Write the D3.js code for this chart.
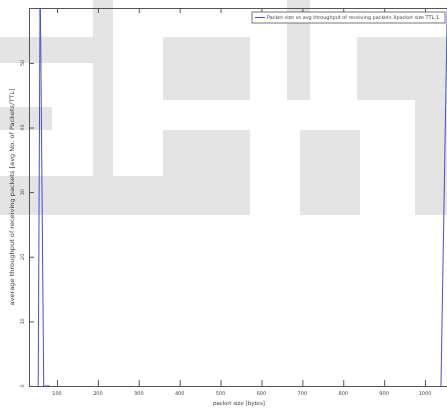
<!DOCTYPE html>
<html>
<head>
<meta charset="utf-8">
<script src="https://cdn.jsdelivr.net/npm/d3@7"></script>
<style>
  body { margin: 0; background: #fff; }
  svg { display: block; font-family: "DejaVu Sans", sans-serif; will-change: transform; }
</style>
</head>
<body>
<div id="chart"></div>
<script>
// packet size (bytes) vs average throughput; null breaks the line
var packetSize = [54, 58.6, 60, 67.5, 83, 500, 1039, 1058];
var throughput = [0, 60, 54.5, 0, 0, null, 0, 72];
var xTicks = [100, 200, 300, 400, 500, 600, 700, 800, 900, 1000];
var yTicks = [0, 10, 20, 30, 40, 50];
var legendLabel = "Packet size vs avg throughput of receiving packets Xpacket size TTL;1";

// background watermark blocks [x, y, w, h]
var watermark = [
  [0, 37, 100, 26], [93, 0, 20, 215], [0, 107, 52, 23], [0, 176, 250, 39],
  [163, 37, 87, 63], [287, 0, 23, 100], [163, 130, 87, 85],
  [357, 37, 90, 63], [415, 37, 32, 178], [300, 130, 60, 85]
];

function lineChart() {
  var W = 447, H = 408;
  var margin = { top: 8, left: 29 },
      width = 451 - margin.left,
      height = 386 - margin.top;

  var root = d3.select("#chart").append("svg")
      .attr("width", W).attr("height", H);

  root.append("g").selectAll("rect")
      .data(watermark)
      .enter().append("rect")
      .attr("x", function (d) { return d[0]; })
      .attr("y", function (d) { return d[1]; })
      .attr("width", function (d) { return d[2]; })
      .attr("height", function (d) { return d[3]; })
      .style("fill", "#e4e4e4");

  var svg = root.append("g")
      .attr("transform", "translate(" + margin.left + "," + margin.top + ")");

  var x = d3.scaleLinear().domain([31.5, 1063.5]).range([0, width]);
  var y = d3.scaleLinear().domain([0, 58.5]).range([height, 0]);

  svg.append("clipPath").attr("id", "clip")
      .append("rect").attr("width", width).attr("height", height);

  var pts = packetSize.map(function (p, i) { return { x: p, y: throughput[i] }; });
  var line = d3.line()
      .defined(function (d) { return d.y !== null; })
      .x(function (d) { return x(d.x); })
      .y(function (d) { return y(d.y); });

  // axes box, ticks pointing inward
  svg.append("g").attr("transform", "translate(0," + height + ")")
      .call(d3.axisTop(x).tickValues(xTicks).tickSize(6).tickFormat(""));
  svg.append("g").call(d3.axisBottom(x).tickValues(xTicks).tickSize(5).tickFormat(""));
  svg.append("g").call(d3.axisRight(y).tickValues(yTicks).tickSize(5).tickFormat(""));
  svg.selectAll(".domain").attr("stroke", "#555").attr("stroke-width", 1);
  svg.selectAll(".tick line").attr("stroke", "#555");

  svg.append("g").selectAll("text")
      .data(xTicks).enter().append("text")
      .attr("x", function (d) { return x(d); })
      .attr("y", height + 9)
      .attr("text-anchor", "middle")
      .style("font-size", "5px").style("fill", "#444")
      .text(function (d) { return d; });

  svg.append("g").selectAll("text")
      .data(yTicks).enter().append("text")
      .attr("transform", function (d) { return "translate(-5," + y(d) + ") rotate(-90)"; })
      .attr("text-anchor", "middle")
      .style("font-size", "5px").style("fill", "#444")
      .text(function (d) { return d; });

  svg.append("path")
      .datum(pts)
      .attr("clip-path", "url(#clip)")
      .attr("d", line)
      .style("fill", "none")
      .style("stroke", "#4a4ad6")
      .style("stroke-width", 1);

  root.append("text")
      .attr("x", 239).attr("y", 405)
      .attr("text-anchor", "middle")
      .style("font-size", "5.5px").style("fill", "#444")
      .text("packet size [bytes]");

  root.append("text")
      .attr("transform", "translate(14,197) rotate(-90)")
      .attr("text-anchor", "middle")
      .attr("textLength", 217).attr("lengthAdjust", "spacingAndGlyphs")
      .style("font-size", "6px").style("fill", "#444")
      .text("average throughput of receiving packets [avg No. of Packets/TTL]");

  // legend
  var lg = root.append("g").attr("transform", "translate(252,12)");
  lg.append("rect").attr("width", 193).attr("height", 11)
      .style("fill", "#fff").style("stroke", "#555").style("stroke-width", 0.8);
  lg.append("line").attr("x1", 3).attr("x2", 13).attr("y1", 5.5).attr("y2", 5.5)
      .style("stroke", "#4a4ad6");
  lg.append("text").attr("x", 15).attr("y", 7.3)
      .attr("textLength", 172).attr("lengthAdjust", "spacingAndGlyphs")
      .style("font-size", "5px").style("fill", "#444")
      .text(legendLabel);
}

lineChart();
</script>
</body>
</html>
